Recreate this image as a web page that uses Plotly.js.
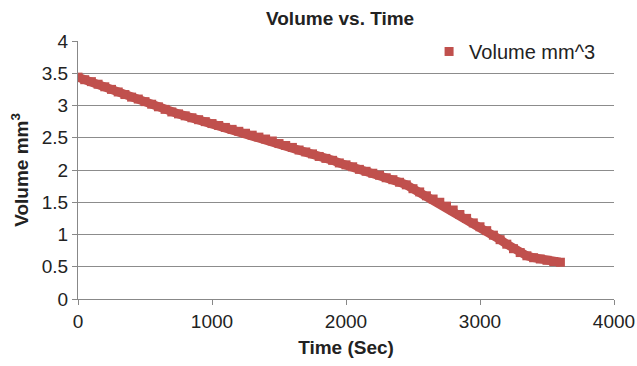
<!DOCTYPE html>
<html>
<head>
<meta charset="utf-8">
<script src="https://cdn.plot.ly/plotly-3.0.1.min.js"></script>
<style>html,body{margin:0;padding:0;background:#fff}#chart{width:637px;height:366px}</style>
</head>
<body>
<div id="chart"></div>
<script>
var timeSec = [0,50,100,150,200,250,300,350,400,450,500,550,600,650,700,750,800,850,900,950,
  1000,1050,1100,1150,1200,1250,1300,1350,1400,1450,1500,1550,1600,1650,1700,1750,1800,1850,1900,1950,
  2000,2050,2100,2150,2200,2250,2300,2350,2400,2450,2500,2550,2600,2650,2700,2750,2800,2850,2900,2950,
  3000,3050,3100,3150,3200,3250,3300,3350,3400,3450,3500,3550,3600];
var volumeMm3 = [3.44,3.40,3.37,3.33,3.29,3.25,3.21,3.17,3.13,3.10,3.06,3.02,2.98,2.94,2.90,2.87,2.84,2.81,2.78,2.75,
  2.72,2.69,2.66,2.63,2.60,2.57,2.54,2.51,2.48,2.45,2.41,2.38,2.35,2.31,2.28,2.25,2.21,2.18,2.15,2.11,
  2.08,2.05,2.01,1.98,1.95,1.92,1.88,1.85,1.81,1.77,1.71,1.66,1.60,1.55,1.50,1.44,1.38,1.31,1.25,1.18,
  1.12,1.06,0.99,0.92,0.85,0.78,0.72,0.67,0.64,0.62,0.60,0.58,0.57];
var seriesName = 'Volume mm^3';
var chartTitle = 'Volume vs. Time';
var xTitle = 'Time (Sec)';
var yTitle = 'Volume mm<sup>3</sup>';

var red = '#C0504D';
var band = {
  x: timeSec, y: volumeMm3, type: 'scatter', mode: 'lines',
  line: {color: red, width: 9}, showlegend: false, hoverinfo: 'skip'
};
var trace = {
  x: timeSec, y: volumeMm3, name: seriesName, type: 'scatter', mode: 'markers',
  marker: {symbol: 'square', size: 9, color: red},
  showlegend: true
};
var fam = 'Liberation Sans, Arial, sans-serif';
var txt = '#222';
var layout = {
  width: 637, height: 366,
  margin: {l: 78, r: 23, t: 41, b: 67},
  paper_bgcolor: '#fff', plot_bgcolor: '#fff',
  font: {family: fam, size: 19, color: txt},
  showlegend: true,
  title: {text: '<b>' + chartTitle + '</b>', font: {family: fam, size: 19, color: txt},
    x: 0.489, xanchor: 'center', y: 0.951, yanchor: 'middle', xref: 'paper', yref: 'container'},
  legend: {x: 0.655, xanchor: 'left', y: 1.035, yanchor: 'top', bgcolor: 'rgba(0,0,0,0)',
    font: {family: fam, size: 20, color: txt}, itemwidth: 30},
  xaxis: {
    range: [0, 4000], dtick: 1000, tick0: 0,
    showgrid: false, zeroline: false,
    showline: true, linecolor: '#888', linewidth: 1,
    ticks: 'outside', ticklen: 5, tickcolor: '#888',
    tickfont: {family: fam, size: 19, color: txt},
    title: {text: '<b>' + xTitle + '</b>', font: {family: fam, size: 19, color: txt}, standoff: 9}
  },
  yaxis: {
    range: [0, 4], dtick: 0.5, tick0: 0,
    showgrid: true, gridcolor: '#8c8c8c', gridwidth: 1, zeroline: false,
    showline: true, linecolor: '#888', linewidth: 1,
    ticks: 'outside', ticklen: 5, tickcolor: '#888',
    tickfont: {family: fam, size: 19, color: txt},
    title: {text: '<b>' + yTitle + '</b>', font: {family: fam, size: 19, color: txt}, standoff: 8}
  }
};
Plotly.newPlot('chart', [band, trace], layout, {displayModeBar: false, staticPlot: true});
</script>
</body>
</html>
